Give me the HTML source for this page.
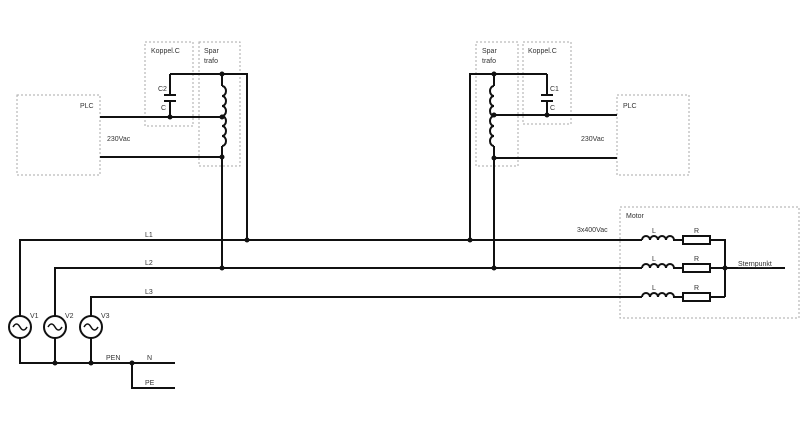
<!DOCTYPE html><html><head><style>body{margin:0;background:#fff}svg{display:block}text{font-family:"Liberation Sans",sans-serif;font-size:7px;fill:#333}</style></head><body>
<svg width="800" height="430" viewBox="0 0 800 430" xmlns="http://www.w3.org/2000/svg">
<g fill="none" stroke="#aaa" stroke-width="1" stroke-dasharray="2,2">
<rect x="17" y="95" width="83" height="80"/><rect x="145" y="42" width="48" height="84"/><rect x="199" y="42" width="41" height="124"/>
<rect x="476" y="42" width="42" height="124"/><rect x="523" y="42" width="48" height="82"/><rect x="617" y="95" width="72" height="80"/>
<rect x="620" y="207" width="179" height="111"/>
</g>
<g fill="none" stroke="#111" stroke-width="2">
<!-- left trafo -->
<path d="M170 74H247V240M222 74V86M222 146V268M170 74V95M170 101V117M100 117H222M100 157H222"/>
<path d="M222 86a4 5 0 0 1 0 10a4 5 0 0 1 0 10a4 5 0 0 1 0 10a4 5 0 0 1 0 10a4 5 0 0 1 0 10a4 5 0 0 1 0 10"/>
<path d="M164 95H176M164 101H176"/>
<!-- right trafo -->
<path d="M547 74H470V240M494 74V86M494 146V268M547 74V95M547 101V115M494 115H617M494 158H617"/>
<path d="M494 86a4 5 0 0 0 0 10a4 5 0 0 0 0 10a4 5 0 0 0 0 10a4 5 0 0 0 0 10a4 5 0 0 0 0 10a4 5 0 0 0 0 10"/>
<path d="M541 95H553M541 101H553"/>
<!-- lines -->
<path d="M20 316V240H642M55 316V268H642M91 316V297H642"/>
<path d="M20 338V363H175M55 338V363M91 338V363M132 363V388H175"/>
<!-- inductors -->
<path d="M642 240a4 4 0 0 1 8 0a4 4 0 0 1 8 0a4 4 0 0 1 8 0a4 4 0 0 1 8 0H683M710 240H725V297"/>
<path d="M642 268a4 4 0 0 1 8 0a4 4 0 0 1 8 0a4 4 0 0 1 8 0a4 4 0 0 1 8 0H683M710 268H785"/>
<path d="M642 297a4 4 0 0 1 8 0a4 4 0 0 1 8 0a4 4 0 0 1 8 0a4 4 0 0 1 8 0H683M710 297H725"/>
<rect x="683" y="236" width="27" height="8"/><rect x="683" y="264" width="27" height="8"/><rect x="683" y="293" width="27" height="8"/>
<circle cx="20" cy="327" r="11"/><circle cx="55" cy="327" r="11"/><circle cx="91" cy="327" r="11"/>
</g>
<g fill="none" stroke="#111" stroke-width="1.5">
<path d="M13 327q3.5-6 7 0t7 0M48 327q3.5-6 7 0t7 0M84 327q3.5-6 7 0t7 0"/>
</g>
<g fill="#111">
<circle cx="222" cy="74" r="2.5"/><circle cx="222" cy="117" r="2.5"/><circle cx="222" cy="157" r="2.5"/><circle cx="170" cy="117" r="2.5"/>
<circle cx="494" cy="74" r="2.5"/><circle cx="494" cy="115" r="2.5"/><circle cx="494" cy="158" r="2.5"/><circle cx="547" cy="115" r="2.5"/>
<circle cx="247" cy="240" r="2.5"/><circle cx="222" cy="268" r="2.5"/><circle cx="470" cy="240" r="2.5"/><circle cx="494" cy="268" r="2.5"/>
<circle cx="55" cy="363" r="2.5"/><circle cx="91" cy="363" r="2.5"/><circle cx="132" cy="363" r="2.5"/><circle cx="725" cy="268" r="2.5"/>
</g>
<text x="80" y="108">PLC</text><text x="107" y="141">230Vac</text>
<text x="151" y="53">Koppel.C</text><text x="204" y="53">Spar</text><text x="204" y="63">trafo</text>
<text x="158" y="91">C2</text><text x="161" y="110">C</text>
<text x="482" y="53">Spar</text><text x="482" y="63">trafo</text><text x="528" y="53">Koppel.C</text>
<text x="550" y="91">C1</text><text x="550" y="110">C</text>
<text x="623" y="108">PLC</text><text x="581" y="141">230Vac</text>
<text x="626" y="218">Motor</text><text x="577" y="232">3x400Vac</text>
<text x="145" y="237">L1</text><text x="145" y="265">L2</text><text x="145" y="294">L3</text>
<text x="652" y="233">L</text><text x="694" y="233">R</text><text x="652" y="261">L</text><text x="694" y="261">R</text><text x="652" y="290">L</text><text x="694" y="290">R</text>
<text x="738" y="266" text-decoration="underline">Sternpunkt</text>
<text x="30" y="318">V1</text><text x="65" y="318">V2</text><text x="101" y="318">V3</text>
<text x="106" y="360">PEN</text><text x="147" y="360">N</text><text x="145" y="385">PE</text>
</svg></body></html>
